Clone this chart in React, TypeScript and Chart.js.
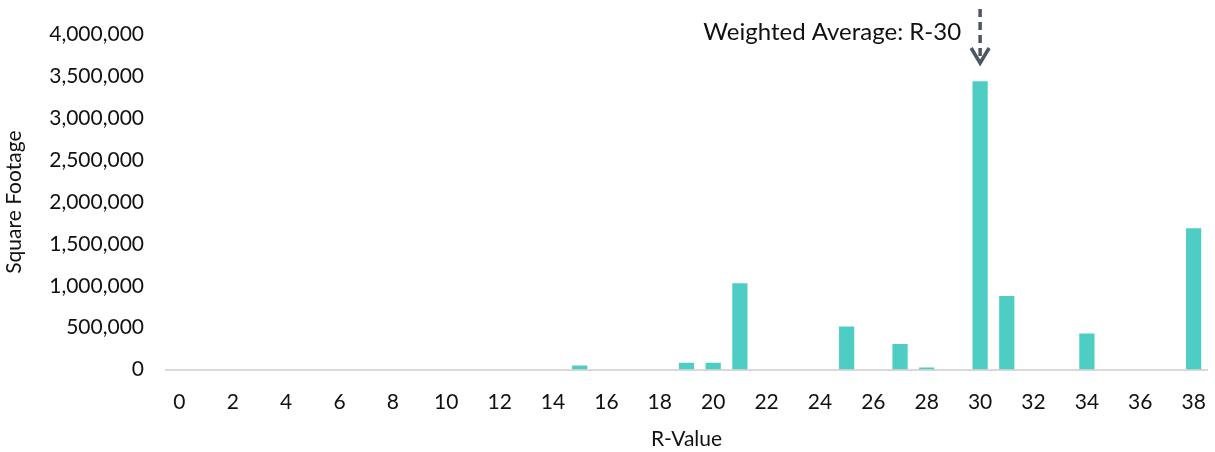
import React, { useEffect, useRef } from "react";
import { Chart, registerables } from "chart.js";

Chart.register(...registerables);

const categories: string[] = Array.from({ length: 39 }, (_, i) => String(i));
const rValues: number[] = [15, 19, 20, 21, 25, 27, 28, 30, 31, 34, 38];
const squareFootage: number[] = [50000, 83000, 83000, 1032000, 514000, 305000, 24000, 3442000, 878000, 431000, 1689000];
const annotationText = "Weighted Average: R-30";
const annotationCategory = "30";

const seriesData: number[] = categories.map((c) => {
  const idx = rValues.indexOf(Number(c));
  return idx >= 0 ? squareFootage[idx] : 0;
});

const FONT = "Lato, 'Open Sans', sans-serif";

export default function App() {
  const ref = useRef<HTMLCanvasElement>(null);
  useEffect(() => {
    document.body.style.margin = "0";
    const annotationPlugin = {
      id: "wavg",
      afterDraw(chart: any) {
        const ctx = chart.ctx;
        const xs = chart.scales.x;
        const idx = categories.indexOf(annotationCategory);
        const x = xs.getPixelForValue(idx);
        ctx.save();
        ctx.strokeStyle = "#4d5662";
        ctx.lineWidth = 3.5;
        ctx.setLineDash([8, 5]);
        ctx.beginPath();
        ctx.moveTo(x, 9);
        ctx.lineTo(x, 62);
        ctx.stroke();
        ctx.setLineDash([]);
        ctx.lineWidth = 3.5;
        ctx.lineJoin = "miter";
        ctx.beginPath();
        ctx.moveTo(x - 9, 48);
        ctx.lineTo(x, 63);
        ctx.lineTo(x + 9, 48);
        ctx.stroke();
        ctx.fillStyle = "#111";
        ctx.font = `24px ${FONT}`;
        ctx.textAlign = "right";
        ctx.textBaseline = "middle";
        ctx.fillText(annotationText, x - 19, 32);
        ctx.restore();
      },
    };
    const chart = new Chart(ref.current!, {
      type: "bar",
      data: {
        labels: categories,
        datasets: [
          {
            data: seriesData,
            backgroundColor: "#4ecdc4",
            borderWidth: 0,
            barPercentage: 0.57,
            categoryPercentage: 1,
          },
        ],
      },
      options: {
        animation: false,
        responsive: false,
        maintainAspectRatio: false,
        layout: { padding: { top: 25, right: 8, left: 0, bottom: 0 } },
        plugins: { legend: { display: false }, tooltip: { enabled: false } },
        scales: {
          x: {
            grid: {
              display: true,
              drawOnChartArea: false,
              drawTicks: true,
              tickLength: 20,
              color: "rgba(0,0,0,0)",
            },
            border: { display: true, color: "#d9d9d9", width: 2 },
            ticks: {
              autoSkip: false,
              maxRotation: 0,
              color: "#111",
              font: { family: FONT, size: 21 },
              padding: 0,
              callback: (_v: any, i: number) => (i % 2 === 0 ? categories[i] : ""),
            },
            title: {
              display: true,
              text: "R-Value",
              color: "#111",
              font: { family: FONT, size: 21 },
              padding: { top: 12, bottom: 0 },
            },
          },
          y: {
            min: 0,
            max: 4000000,
            grid: { display: false, drawTicks: false },
            border: { display: false },
            ticks: {
              stepSize: 500000,
              color: "#111",
              font: { family: FONT, size: 21 },
              padding: 22,
              callback: (v: any) => Number(v).toLocaleString("en-US"),
            },
            title: {
              display: true,
              text: "Square Footage",
              color: "#111",
              font: { family: FONT, size: 21 },
              padding: { top: 2, bottom: 0 },
            },
          },
        },
      },
      plugins: [annotationPlugin],
    });
    return () => chart.destroy();
  }, []);
  return (
    <div style={{ width: 1215, height: 452 }}>
      <canvas ref={ref} width={1215} height={452} style={{ display: "block" }} />
    </div>
  );
}
